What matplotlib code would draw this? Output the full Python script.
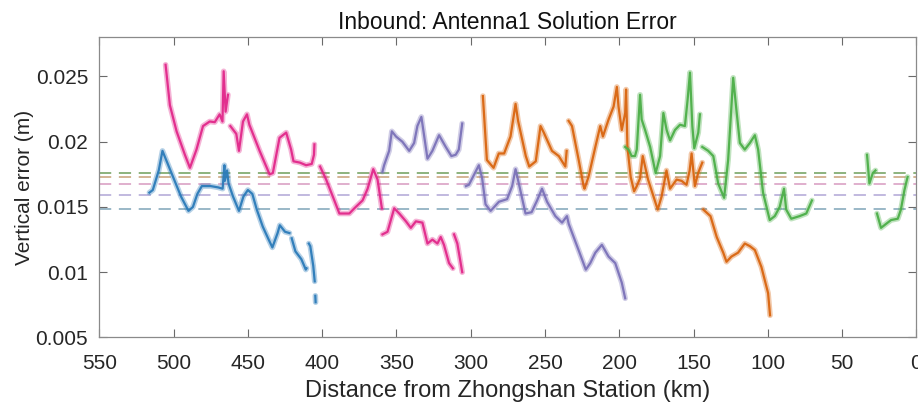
import numpy as np
import matplotlib
matplotlib.use("Agg")
import matplotlib.pyplot as plt

nan = np.nan

# ---- data (distance km, vertical error m); nan separates track pieces ----
blue_km = [516.3, 514, 510, 507.5, 505, 500, 495, 490, 487, 484, 481, 475, 470, 467, 465.8, 465.5, 464, 463,
           460, 456, 453, 450, 447, 444, 440, 436, 433.5, 430, 428.5, 425, 422, nan,
           420.5, 418, 414, 411, 410.5, nan, 409, 408, 406, 405, nan, 404.6, 404.4]
blue_err = [0.0161, 0.0163, 0.0178, 0.0193, 0.0186, 0.0172, 0.0158, 0.0147, 0.0150, 0.0160, 0.0166, 0.0166,
            0.0165, 0.0164, 0.0182, 0.0170, 0.0178, 0.0168, 0.0158, 0.0147, 0.0158, 0.0163, 0.0160, 0.0148,
            0.0135, 0.0125, 0.0119, 0.0130, 0.0136, 0.0131, 0.0130, nan,
            0.0126, 0.0116, 0.0110, 0.0102, 0.0103, nan, 0.0122, 0.0120, 0.0105, 0.0093, nan, 0.0082, 0.0077]

pink_km = [505.4, 502.5, 498, 492.4, 489, 484.6, 480.2, 475.7, 472.3, 469, 467.1, 466.3, 465, 463.4, nan,
           461.8, 457.8, 456, 453.3, 450.6, 449, 442.1, 435.4, 433.2, 428.7, 424.2, 420.9, 419.3, 415, 410.8,
           407, 405.5, 405.2, nan,
           401.4, 397.3, 391.8, 388.4, 381.7, 378.3, 372.8, 369.4, 365.6, 362.7, 359.8, nan,
           359.4, 356, 351.5, 348.1, 343.6, 340.3, 336.9, 332.5, 329.1, 325.8, 322.4, 320.2, 318, 314.6, 312, nan,
           311.2, 309, 305.7]
pink_err = [0.0259, 0.0228, 0.0208, 0.0190, 0.0180, 0.0194, 0.0212, 0.02155, 0.0215, 0.0221, 0.02155, 0.0254,
            0.0223, 0.0236, nan,
            0.0212, 0.0206, 0.0193, 0.02155, 0.0221, 0.0213, 0.0193, 0.0175, 0.0176, 0.0203, 0.0207, 0.0194,
            0.0185, 0.0184, 0.0182, 0.0183, 0.0190, 0.0198, nan,
            0.0181, 0.0171, 0.0155, 0.0145, 0.0145, 0.0149, 0.0155, 0.0164, 0.0179, 0.0171, 0.0149, nan,
            0.0129, 0.0131, 0.0149, 0.0145, 0.0139, 0.0134, 0.0139, 0.0138, 0.0122, 0.0125, 0.0122, 0.0127,
            0.0121, 0.0107, 0.0103, nan,
            0.0129, 0.0122, 0.0100]

purple_km = [359.4, 358.3, 354.9, 353.1, 350.3, 346, 341.4, 338.1, 335.9, 333.2, 331.4, 329.1, 325.8, 321.3,
             316.8, 313, 310.1, 308, 305.7, nan,
             303.2, 301.2, 294.5, 292.3, 290, 286.6, 281, 275.5, 272.1, 269.8, 267.6, 263.1, 259, 255.3, 252,
             248.6, 243, 238.5, 235.2, 234, 227.4, 222.5, 219.5, 216.1, 211.7, 207.2, 202.7, 198.3, 196]
purple_err = [0.0177, 0.0182, 0.0193, 0.0208, 0.0204, 0.0200, 0.0193, 0.0199, 0.0212, 0.0219, 0.0205, 0.0187,
              0.0193, 0.0205, 0.0196, 0.0189, 0.0190, 0.0194, 0.0214, nan,
              0.0166, 0.0167, 0.0182, 0.0172, 0.0152, 0.0147, 0.0154, 0.0156, 0.0166, 0.0179, 0.0168, 0.0145,
              0.0146, 0.0155, 0.0164, 0.0154, 0.0143, 0.0138, 0.0143, 0.0137, 0.0117, 0.0102, 0.0107, 0.0115,
              0.0121, 0.0112, 0.0107, 0.0092, 0.0080]

orange_km = [291.8, 289.1, 284.6, 281.1, 277.5, 273.2, 269.8, 268.1, 262.9, 260.6, 256.2, 253, 250.8, 245.3,
             240.7, 236.3, 235.4, nan,
             234.1, 231.8, 227.3, 224, 223.4, 220.7, 216.1, 212.8, 211, 207.2, 203.8, 201.6, 200.5, 198.3, 196,
             195.4, 194.5, 192.3, 190, 188.2, 186, 184.2, 180.6, 174.1, 171.5, 168.2, 165.8, 161.4, 158, 154.7,
             152.6, 151.3, 149.1, 146.9, 144.1, nan,
             143.4, 138.6, 134.4, 130, 127.8, 124.5, 120, 115.5, 112.1, 108.7, 104.3, 99.8, 98.5]
orange_err = [0.0235, 0.0186, 0.0180, 0.0191, 0.0191, 0.0204, 0.0229, 0.0216, 0.0189, 0.0181, 0.0185, 0.0212,
              0.0207, 0.0193, 0.0189, 0.0181, 0.0193, nan,
              0.0216, 0.0212, 0.0186, 0.0166, 0.0164, 0.0173, 0.0196, 0.0212, 0.0204, 0.0217, 0.0227, 0.0242,
              0.0227, 0.0209, 0.0222, 0.0240, 0.0196, 0.0173, 0.0162, 0.0166, 0.0172, 0.0189, 0.0171, 0.0148,
              0.0158, 0.0178, 0.0164, 0.0171, 0.0170, 0.0167, 0.0178, 0.0191, 0.0166, 0.0176, 0.0184, nan,
              0.0148, 0.0143, 0.0127, 0.0115, 0.0108, 0.0112, 0.0115, 0.0122, 0.0120, 0.0117, 0.0104, 0.0084,
              0.0067]

green_km = [196, 193.8, 191.6, 189.4, 188.2, 186, 184.9, 182.6, 179.2, 175.5, 172.5, 170.3, 168.1, 165.8, 162.5,
            159.1, 155.8, 154, 152.4, 150.8, 149.5, 146.8, 145.7, nan,
            144.1, 140.1, 136.7, 133.4, 129.4, 126.7, 123.3, 121.1, 118.8, 115.5, 112.1, 108.7, 106.5, 103.2,
            98.7, 95.3, 92, 89.1, 87.6, 84.2, 78.6, 74.1, 70.3, nan,
            33.2, 31.6, 29.3, 27.5, nan,
            26.5, 23.8, 19.3, 17, 12.5, 10.4, 8, 5.9]
green_err = [0.0196, 0.0194, 0.0189, 0.0189, 0.0194, 0.0236, 0.0217, 0.0209, 0.0196, 0.0176, 0.0189, 0.0222,
             0.0209, 0.0201, 0.0209, 0.0213, 0.0212, 0.0232, 0.0253, 0.0212, 0.0195, 0.0207, 0.0221, nan,
             0.0196, 0.0193, 0.0189, 0.0168, 0.0157, 0.0186, 0.0249, 0.0224, 0.0199, 0.0194, 0.0199, 0.0205,
             0.0194, 0.0161, 0.0140, 0.0143, 0.0150, 0.0164, 0.0148, 0.0141, 0.0143, 0.0145, 0.0155, nan,
             0.0190, 0.0168, 0.0176, 0.0178, nan,
             0.0145, 0.0134, 0.0138, 0.0140, 0.0141, 0.0148, 0.0163, 0.0173]

# mean error lines (dashed)
mean_levels = [0.01759, 0.01729, 0.01679, 0.01595, 0.01485]
mean_colors = ['#6E9E5A', '#C8A078', '#D79AC0', '#B0A6D6', '#7FA4B8']

series = [
    (blue_km, blue_err, '#2B7BB9'),
    (pink_km, pink_err, '#E2288A'),
    (purple_km, purple_err, '#7B72B8'),
    (orange_km, orange_err, '#D9650F'),
    (green_km, green_err, '#4CAF48'),
]

x_ticks = [550, 500, 450, 400, 350, 300, 250, 200, 150, 100, 50, 0]
y_ticks = [0.005, 0.01, 0.015, 0.02, 0.025]
y_ticklabels = ['0.005', '0.01', '0.015', '0.02', '0.025']

plt.rcParams['font.family'] = ['Liberation Sans', 'DejaVu Sans']

fig = plt.figure(figsize=(9.18, 4.07), dpi=100)
ax = fig.add_axes([0.1082, 0.1708, 0.8900, 0.7375])

for lvl, c in zip(mean_levels, mean_colors):
    ax.axhline(lvl, color=c, lw=1.1, dashes=(8, 5), zorder=1)

for km, err, c in series:
    ax.plot(km, err, color=c, lw=4.0, alpha=0.35, solid_joinstyle='round', solid_capstyle='round', zorder=2)
    ax.plot(km, err, color=c, lw=1.6, alpha=0.95, solid_joinstyle='round', zorder=3)

ax.set_xlim(550, 0)
ax.set_ylim(0.005, 0.028)
ax.set_xticks(x_ticks)
ax.set_xticklabels([str(t) for t in x_ticks])
ax.set_yticks(y_ticks)
ax.set_yticklabels(y_ticklabels)

for s in ax.spines.values():
    s.set_color('#8a8a8a')
    s.set_linewidth(0.9)
ax.tick_params(direction='in', length=6, width=0.8, color='#6a6a6a',
               top=True, right=True, labelsize=15, labelcolor='#262626')
ax.tick_params(axis='x', pad=12)
ax.tick_params(axis='y', pad=8)

ax.set_xlabel('Distance from Zhongshan Station (km)', fontsize=17, color='#262626', labelpad=5)
ax.set_ylabel('Vertical error (m)', fontsize=15, color='#262626', labelpad=1)
ax.set_title('Inbound: Antenna1 Solution Error', fontsize=16.5, color='#111111', pad=6)

fig.savefig('out.png', dpi=100)
